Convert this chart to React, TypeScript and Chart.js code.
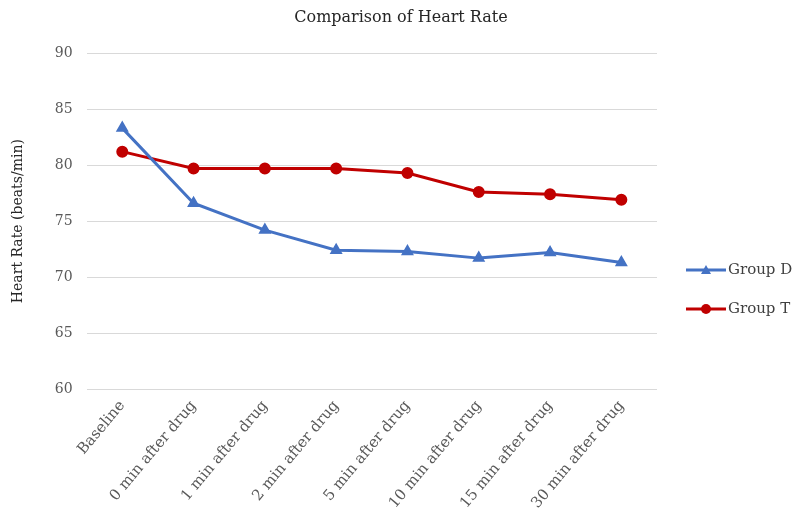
import React, { useEffect, useRef } from "react";
import { Chart, registerables } from "chart.js";

Chart.register(...registerables);

const categories = [
  "Baseline",
  "0 min after drug",
  "1 min after drug",
  "2 min after drug",
  "5 min after drug",
  "10 min after drug",
  "15 min after drug",
  "30 min after drug",
];
const groupD = [83.3, 76.6, 74.2, 72.4, 72.3, 71.7, 72.2, 71.3];
const groupT = [81.2, 79.7, 79.7, 79.7, 79.3, 77.6, 77.4, 76.9];
const seriesNames = ["Group D", "Group T"];
const chartTitle = "Comparison of Heart Rate";
const yTitle = "Heart Rate (beats/min)";

const BLUE = "#4472C4";
const RED = "#C00000";
const FONT = "'DejaVu Serif', 'Liberation Serif', serif";

const overlay = {
  id: "overlay",
  afterDraw(chart: any) {
    const ctx = chart.ctx;
    ctx.save();
    ctx.fillStyle = "#262626";
    ctx.font = `16px ${FONT}`;
    ctx.textAlign = "center";
    ctx.textBaseline = "middle";
    ctx.fillText(chartTitle, 401, 18);

    const items = [
      { name: seriesNames[0], color: BLUE, style: "triangle", y: 270 },
      { name: seriesNames[1], color: RED, style: "circle", y: 309 },
    ];
    items.forEach((it) => {
      ctx.strokeStyle = it.color;
      ctx.lineWidth = 3;
      ctx.beginPath();
      ctx.moveTo(686, it.y);
      ctx.lineTo(726, it.y);
      ctx.stroke();
      ctx.fillStyle = it.color;
      ctx.beginPath();
      if (it.style === "circle") {
        ctx.arc(706, it.y, 5, 0, Math.PI * 2);
      } else {
        ctx.moveTo(706, it.y - 5);
        ctx.lineTo(711, it.y + 4);
        ctx.lineTo(701, it.y + 4);
        ctx.closePath();
      }
      ctx.fill();
      ctx.fillStyle = "#404040";
      ctx.font = `15px ${FONT}`;
      ctx.textAlign = "left";
      ctx.fillText(it.name, 728, it.y);
    });
    ctx.restore();
  },
};

export default function App() {
  const ref = useRef<HTMLCanvasElement>(null);
  useEffect(() => {
    document.body.style.margin = "0";
    const chart = new Chart(ref.current!, {
      type: "line",
      data: {
        labels: categories,
        datasets: [
          {
            label: seriesNames[0],
            data: groupD,
            borderColor: BLUE,
            backgroundColor: BLUE,
            borderWidth: 3,
            pointStyle: "triangle",
            pointRadius: 4.5,
            tension: 0,
          },
          {
            label: seriesNames[1],
            data: groupT,
            borderColor: RED,
            backgroundColor: RED,
            borderWidth: 3,
            pointStyle: "circle",
            pointRadius: 4.5,
            tension: 0,
          },
        ],
      },
      plugins: [overlay],
      options: {
        animation: false,
        responsive: false,
        layout: { padding: { top: 53, right: 144, left: 10, bottom: 2 } },
        plugins: {
          legend: { display: false },
          title: { display: false },
          tooltip: { enabled: false },
        },
        scales: {
          x: {
            offset: true,
            grid: { display: false, drawTicks: false, offset: true },
            border: { display: false },
            ticks: {
              color: "#595959",
              font: { family: FONT, size: 15 },
              maxRotation: 50,
              minRotation: 50,
              padding: 8,
            },
          },
          y: {
            min: 60,
            max: 90,
            grid: { color: "#d9d9d9", drawTicks: false, lineWidth: 1 },
            border: { display: false },
            ticks: {
              stepSize: 5,
              color: "#595959",
              font: { family: FONT, size: 14 },
              padding: 14,
            },
            title: {
              display: true,
              text: yTitle,
              color: "#262626",
              font: { family: FONT, size: 14 },
              padding: { top: 0, bottom: 14 },
            },
          },
        },
      },
    });
    return () => chart.destroy();
  }, []);
  return (
    <div style={{ width: 801, height: 522 }}>
      <canvas ref={ref} width={801} height={522} />
    </div>
  );
}
